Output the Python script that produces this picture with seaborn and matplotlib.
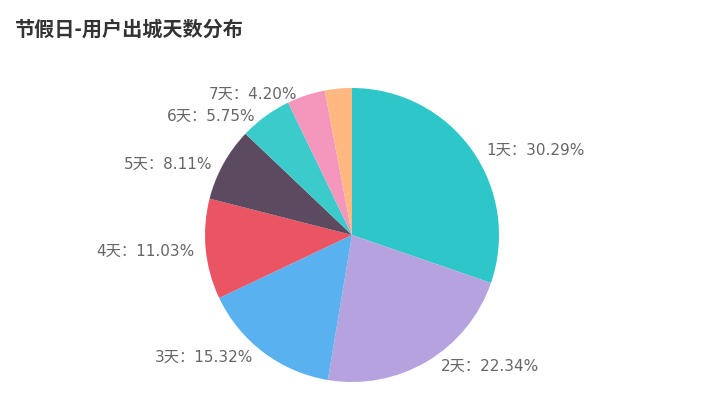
import numpy as np
import seaborn as sns
import matplotlib.pyplot as plt

# data
days = ["1天", "2天", "3天", "4天", "5天", "6天", "7天", "8天及以上"]
shares = [30.29, 22.34, 15.32, 11.03, 8.11, 5.75, 4.20, 2.96]
show_label = [True, True, True, True, True, True, True, False]
colors = ["#2ec7c9", "#b6a2de", "#5ab1ef", "#ea5463", "#5b4a60",
          "#3ccbcb", "#f596bd", "#ffb980"]

sns.set_theme(style="white")
plt.rcParams['font.family'] = ['DejaVu Sans', 'Noto Sans CJK SC']

W, H = 702, 420
fig = plt.figure(figsize=(W / 100, H / 100), dpi=100)
cx, cy, r = 352, 235, 147
ax = fig.add_axes([(cx - r) / W, (H - cy - r) / H, 2 * r / W, 2 * r / H])

wedges, _ = ax.pie(shares, colors=colors, startangle=90, counterclock=False,
                   wedgeprops=dict(linewidth=0))
ax.set_xlim(-1, 1)
ax.set_ylim(-1, 1)
ax.set_aspect("equal")

for w, d, s, sh in zip(wedges, days, shares, show_label):
    if not sh:
        continue
    ang = np.deg2rad((w.theta1 + w.theta2) / 2)
    x, y = 1.02 * np.cos(ang), 1.02 * np.sin(ang) - 0.015
    right = x > 0
    ax.annotate(f"{d}：{s:.2f}%", (x, y), xytext=(9 if right else -6, 0),
                textcoords="offset points", ha="left" if right else "right",
                va="center", fontsize=11, color="#666666",
                annotation_clip=False,
                family=['DejaVu Sans', 'Noto Sans CJK SC'])

fig.text(14 / W, 1 - 29 / H, "节假日-用户出城天数分布", fontsize=14.5,
         fontweight="bold", color="#333333", va="center", ha="left",
         family=['Noto Sans CJK SC', 'DejaVu Sans'])

fig.savefig("out.png", dpi=100)
